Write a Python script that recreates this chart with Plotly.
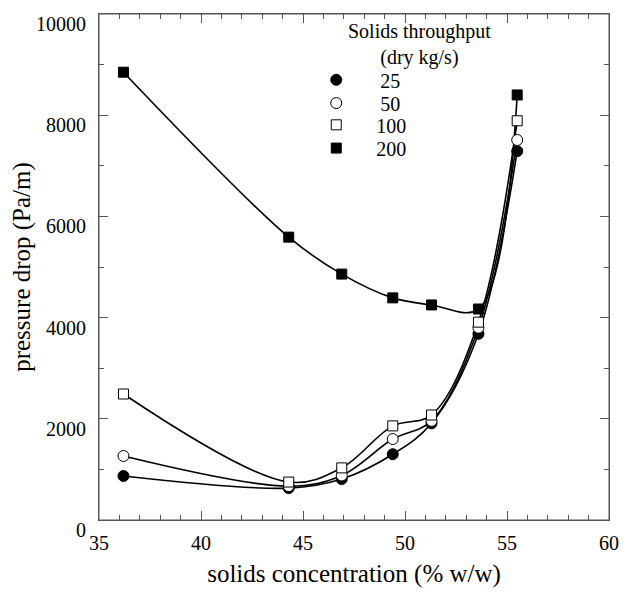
import plotly.graph_objects as go

# Data
concentration = [36.2, 44.3, 46.9, 49.4, 51.3, 53.6, 55.5]
dp_25 = [870, 630, 810, 1300, 1910, 3680, 7290]
dp_50 = [1265, 670, 880, 1600, 1960, 3800, 7510]
dp_100 = [2490, 750, 1030, 1860, 2075, 3910, 7890]
dp_200 = [8850, 5590, 4860, 4390, 4250, 4170, 8400]

series_names = ["\u2007\u2007\u200925", "\u2007\u2007\u200950", "\u2007\u2007100", "\u2007\u2007200"]
series_values = [dp_25, dp_50, dp_100, dp_200]
symbols = ["circle", "circle", "square", "square"]
fills = ["black", "white", "white", "black"]
sizes = [11, 11, 10, 10]

x_ticks = [35, 40, 45, 50, 55, 60]
y_ticks = [0, 2000, 4000, 6000, 8000, 10000]

FONT = "Liberation Serif, Times New Roman, serif"
AXIS_COLOR = "#555"

fig = go.Figure()

for vals in series_values:
    fig.add_trace(go.Scatter(
        x=concentration, y=vals, mode="lines",
        line=dict(color="black", width=1.6, shape="spline", smoothing=1.0),
        showlegend=False, hoverinfo="skip"))

legend_ids = ["legend", "legend2", "legend3", "legend4"]
for name, vals, sym, fc, sz, lg in zip(series_names, series_values, symbols, fills, sizes, legend_ids):
    fig.add_trace(go.Scatter(
        x=concentration, y=vals, mode="markers", name=name, legend=lg,
        marker=dict(symbol=sym, size=sz, color=fc,
                    line=dict(color="black", width=1))))

axis_common = dict(
    showline=True, linecolor=AXIS_COLOR, linewidth=1, mirror="allticks",
    ticks="inside", tickcolor=AXIS_COLOR, tickwidth=1, ticklen=9,
    showgrid=False, zeroline=False, automargin=False,
    ticklabeloverflow="allow",
    tickfont=dict(family=FONT, size=20, color="black"),
)

fig.update_xaxes(
    range=[35, 60], tickmode="array", tickvals=x_ticks,
    ticktext=[str(v) for v in x_ticks],
    minor=dict(dtick=1, tick0=35, ticks="inside", ticklen=5, tickcolor=AXIS_COLOR, showgrid=False),
    ticklabelstandoff=5,
    title=dict(text="solids concentration (% w/w)",
               font=dict(family=FONT, size=25, color="black"), standoff=11),
    **axis_common)

fig.update_yaxes(
    range=[0, 10000], tickmode="array", tickvals=y_ticks,
    ticktext=[str(v) for v in y_ticks],
    minor=dict(dtick=1000, tick0=0, ticks="inside", ticklen=5, tickcolor=AXIS_COLOR, showgrid=False),
    ticklabelshift=10, ticklabelstandoff=8,
    title=dict(text="pressure drop (Pa/m)",
               font=dict(family=FONT, size=25, color="black"), standoff=8),
    **axis_common)

legend_style = dict(
    x=0.426, xanchor="left", yanchor="middle",
    bgcolor="rgba(0,0,0,0)",
    font=dict(family=FONT, size=20, color="black"),
)

# The page body keeps the browser's default 8px margin, so the figure is
# sized and offset to put the plot frame where the reference has it.
fig.update_layout(
    width=624, height=590,
    margin=dict(l=91, r=23, t=6, b=78),
    plot_bgcolor="white", paper_bgcolor="white",
    font=dict(family=FONT, color="black"),
    legend=dict(y=0.870, **legend_style),
    legend2=dict(y=0.824, **legend_style),
    legend3=dict(y=0.781, **legend_style),
    legend4=dict(y=0.735, **legend_style),
    annotations=[dict(
        text="Solids throughput<br>(dry kg/s)", xref="paper", yref="paper",
        x=0.629, y=0.993, xanchor="center", yanchor="top", showarrow=False,
        font=dict(family=FONT, size=20, color="black"))],
    shapes=[dict(type="rect", xref="x domain", yref="y domain",
                 x0=0, x1=1, y0=0, y1=1,
                 line=dict(color=AXIS_COLOR, width=1), layer="above")],
)

fig.write_html("out.html")
